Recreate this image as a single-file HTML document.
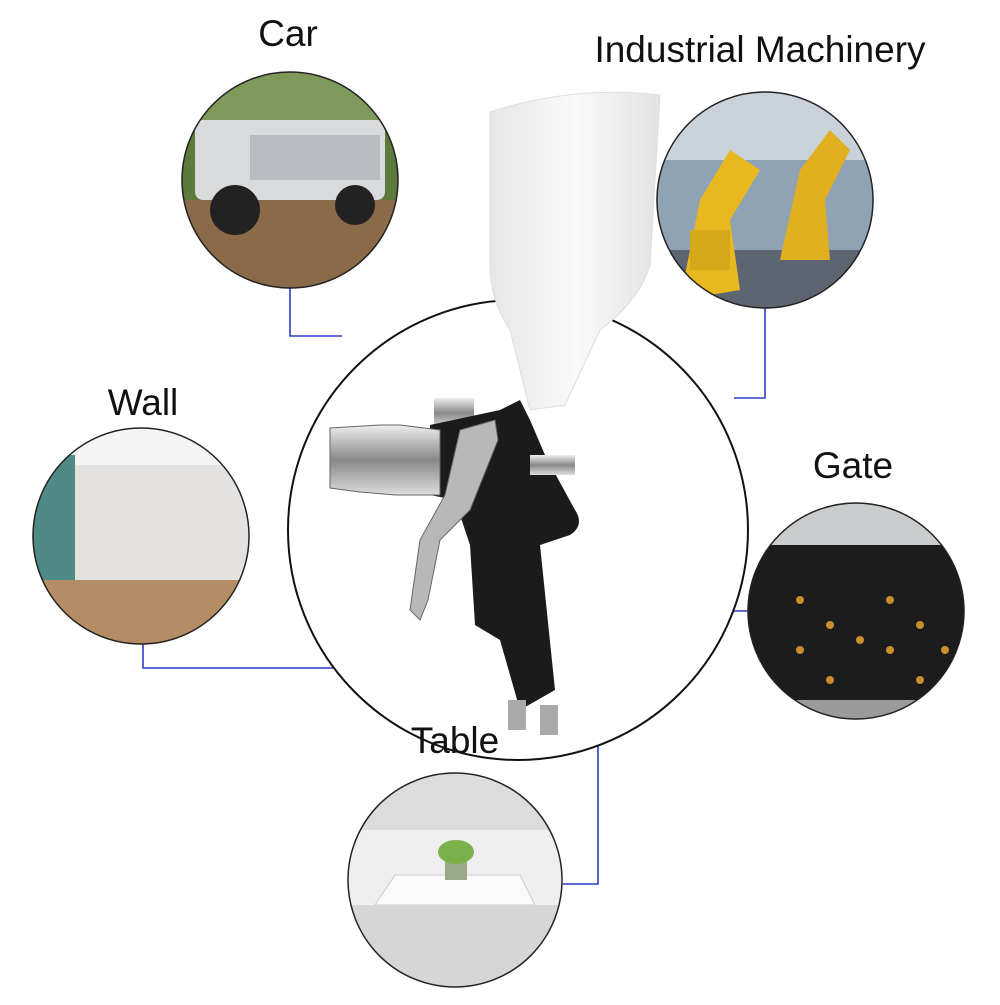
<!DOCTYPE html>
<html><head><meta charset="utf-8">
<style>
html,body{margin:0;padding:0;background:#fff;}
svg text{font-family:"Liberation Sans",sans-serif;fill:#111;}
</style></head>
<body>
<svg width="1000" height="1000" viewBox="0 0 1000 1000" xmlns="http://www.w3.org/2000/svg">
<defs>
<clipPath id="cCar"><circle cx="290" cy="180" r="108"/></clipPath>
<clipPath id="cInd"><circle cx="765" cy="200" r="108"/></clipPath>
<clipPath id="cWall"><circle cx="141" cy="536" r="108"/></clipPath>
<clipPath id="cGate"><circle cx="856" cy="611" r="108"/></clipPath>
<clipPath id="cTab"><circle cx="455" cy="880" r="107"/></clipPath>
<linearGradient id="cup" x1="0" x2="1"><stop offset="0" stop-color="#e6e6e6"/><stop offset="0.5" stop-color="#fafafa"/><stop offset="1" stop-color="#e2e2e2"/></linearGradient>
<linearGradient id="chrome" x1="0" x2="0" y1="0" y2="1"><stop offset="0" stop-color="#eee"/><stop offset="0.5" stop-color="#888"/><stop offset="1" stop-color="#ddd"/></linearGradient>
</defs>

<!-- connectors -->
<g stroke="#2a3fc8" stroke-width="1.6" fill="none">
<polyline points="290,288 290,336 342,336"/>
<polyline points="765,308 765,398 734,398"/>
<polyline points="143,644 143,668 392,668"/>
<polyline points="748,611 708,611"/>
<polyline points="563,884 598,884 598,690"/>
</g>

<!-- big circle -->
<circle cx="518" cy="530" r="230" fill="#fff" stroke="#111" stroke-width="2"/>

<!-- Car -->
<g clip-path="url(#cCar)">
<rect x="180" y="70" width="220" height="220" fill="#5c7a3c"/>
<rect x="180" y="70" width="220" height="60" fill="#7d9a5a"/>
<rect x="180" y="200" width="220" height="90" fill="#8a6a48"/>
<rect x="195" y="120" width="190" height="80" rx="8" fill="#d8dadc"/>
<rect x="250" y="135" width="130" height="45" fill="#b8bcc0"/>
<circle cx="235" cy="210" r="25" fill="#222"/><circle cx="355" cy="205" r="20" fill="#222"/>
</g>
<circle cx="290" cy="180" r="108" fill="none" stroke="#222" stroke-width="1.5"/>

<!-- Industrial -->
<g clip-path="url(#cInd)">
<rect x="655" y="90" width="220" height="220" fill="#8fa3b4"/>
<rect x="655" y="90" width="220" height="70" fill="#c9d2da"/>
<rect x="655" y="250" width="220" height="60" fill="#5d6670"/>
<path d="M680 300 L700 200 L730 150 L760 170 L730 220 L740 290 Z" fill="#e8b820"/>
<path d="M780 260 L800 170 L830 130 L850 150 L825 200 L830 260 Z" fill="#e0b020"/>
<rect x="690" y="230" width="40" height="40" fill="#d4a818"/>
</g>
<circle cx="765" cy="200" r="108" fill="none" stroke="#222" stroke-width="1.5"/>

<!-- Wall -->
<g clip-path="url(#cWall)">
<rect x="30" y="425" width="225" height="225" fill="#e4e2e0"/>
<rect x="30" y="425" width="225" height="40" fill="#f4f4f4"/>
<rect x="30" y="455" width="45" height="140" fill="#4f8a86"/>
<rect x="30" y="580" width="225" height="70" fill="#b58d64"/>
</g>
<circle cx="141" cy="536" r="108" fill="none" stroke="#222" stroke-width="1.5"/>

<!-- Gate -->
<g clip-path="url(#cGate)">
<rect x="745" y="500" width="225" height="225" fill="#1c1c1c"/>
<rect x="745" y="500" width="225" height="45" fill="#c8cccc"/>
<rect x="745" y="700" width="225" height="25" fill="#9a9a9a"/>
<g fill="#c8902c">
<circle cx="800" cy="600" r="4"/><circle cx="830" cy="625" r="4"/><circle cx="800" cy="650" r="4"/><circle cx="830" cy="680" r="4"/>
<circle cx="890" cy="600" r="4"/><circle cx="920" cy="625" r="4"/><circle cx="890" cy="650" r="4"/><circle cx="920" cy="680" r="4"/>
<circle cx="860" cy="640" r="4"/><circle cx="945" cy="650" r="4"/>
</g>
</g>
<circle cx="856" cy="611" r="108" fill="none" stroke="#222" stroke-width="1.5"/>

<!-- Table -->
<g clip-path="url(#cTab)">
<rect x="345" y="770" width="220" height="220" fill="#efefef"/>
<rect x="345" y="770" width="220" height="60" fill="#dcdcdc"/>
<polygon points="375,905 535,905 520,875 395,875" fill="#fafafa" stroke="#ccc"/>
<rect x="345" y="905" width="220" height="85" fill="#d6d6d6"/>
<rect x="445" y="855" width="22" height="25" fill="#9a8"/>
<ellipse cx="456" cy="852" rx="18" ry="12" fill="#7cb04a"/>
</g>
<circle cx="455" cy="880" r="107" fill="none" stroke="#222" stroke-width="1.5"/>

<!-- Spray gun -->
<path d="M490 112 Q575 85 660 95 L650 265 Q640 300 600 330 L565 405 L530 410 L510 330 Q490 300 490 265 Z" fill="url(#cup)" stroke="#ddd"/>
<rect x="434" y="398" width="40" height="30" fill="url(#chrome)"/>
<path d="M430 425 L500 410 L520 400 L530 420 L545 455 L575 510 Q585 525 570 535 L540 545 L555 690 L520 710 L500 640 L475 625 L470 545 L455 500 L430 495 Z" fill="#1b1b1b"/>
<path d="M330 428 L380 425 L400 425 L440 430 L440 495 L395 495 L360 492 L330 488 Z" fill="url(#chrome)" stroke="#666"/>
<path d="M460 430 L495 420 L498 440 L470 510 L440 540 L428 600 L420 620 L410 610 L420 540 L445 495 Z" fill="#b8b8b8" stroke="#666"/>
<rect x="530" y="455" width="45" height="20" fill="url(#chrome)"/>
<rect x="508" y="700" width="18" height="30" fill="#aaa"/><rect x="540" y="705" width="18" height="30" fill="#aaa"/>

<!-- labels -->
<text x="288" y="46" font-size="37" text-anchor="middle">Car</text>
<text x="760" y="62" font-size="37" text-anchor="middle">Industrial Machinery</text>
<text x="143" y="415" font-size="37" text-anchor="middle">Wall</text>
<text x="853" y="478" font-size="37" text-anchor="middle">Gate</text>
<text x="455" y="753" font-size="37" text-anchor="middle">Table</text>
</svg>
</body></html>
